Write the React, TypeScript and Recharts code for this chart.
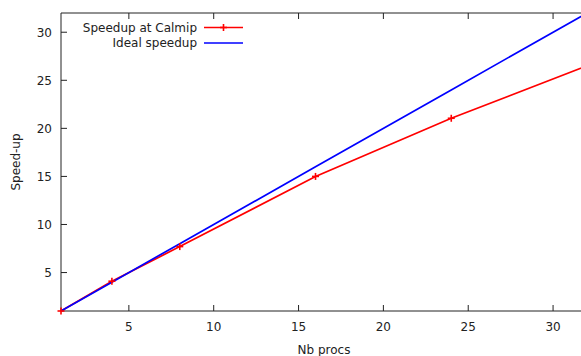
import { LineChart, Line, XAxis, YAxis, ReferenceArea, Legend } from 'recharts'

const procs = [1, 4, 8, 16, 24, 32]
const calmipSpeedup = [1, 4.1, 7.7, 15, 21.05, 26.5]
const idealSpeedup = [1, 4, 8, 16, 24, 32]
const xTicks = [5, 10, 15, 20, 25, 30]
const yTicks = [5, 10, 15, 20, 25, 30]
const seriesNames = ['Speedup at Calmip', 'Ideal speedup']

const data = procs.map((p, i) => ({ procs: p, calmip: calmipSpeedup[i], ideal: idealSpeedup[i] }))

// layout (the right border falls just outside the window, like the original)
const W = 600
const H = 356
const margin = { top: 13, right: 13, left: 0, bottom: 0 }
const xAxisHeight = 45
const yAxisWidth = 61
const plotTop = margin.top
const plotBottom = H - xAxisHeight
const plotLeft = yAxisWidth
const plotRight = W - margin.right
const font = "'DejaVu Sans', sans-serif"
const ink = '#222'

function XTick({ x, y, payload }: any) {
  return (
    <g>
      <line x1={x} y1={plotBottom} x2={x} y2={plotBottom - 6} stroke={ink} />
      <line x1={x} y1={plotTop} x2={x} y2={plotTop + 6} stroke={ink} />
      <text x={x} y={y + 19.5} textAnchor="middle" fontSize={12} fill={ink} fontFamily={font}>
        {payload.value}
      </text>
    </g>
  )
}

function YTick({ x, y, payload }: any) {
  return (
    <g>
      <line x1={plotLeft} y1={y} x2={plotLeft + 6} y2={y} stroke={ink} />
      <line x1={plotRight} y1={y} x2={plotRight - 6} y2={y} stroke={ink} />
      <text x={x - 9} y={y + 4.3} textAnchor="end" fontSize={12} fill={ink} fontFamily={font}>
        {payload.value}
      </text>
    </g>
  )
}

function PlusDot({ cx, cy, stroke }: any) {
  if (cx == null || cy == null) return null
  return (
    <g>
      <line x1={cx - 3.5} y1={cy} x2={cx + 3.5} y2={cy} stroke={stroke} strokeWidth={1.6} />
      <line x1={cx} y1={cy - 3.5} x2={cx} y2={cy + 3.5} stroke={stroke} strokeWidth={1.6} />
    </g>
  )
}

function KeyBox({ payload }: any) {
  const entries = [...(payload || [])].sort(
    (a: any, b: any) => seriesNames.indexOf(a.value) - seriesNames.indexOf(b.value)
  )
  return (
    <svg width={260} height={55} style={{ display: 'block' }}>
      {entries.map((entry: any, i: number) => {
        const ly = 27.5 + i * 15.5
        return (
          <g key={entry.value}>
            <text x={197} y={ly + 4.3} textAnchor="end" fontSize={12} fill={ink} fontFamily={font}>
              {entry.value}
            </text>
            <line x1={204} y1={ly} x2={243} y2={ly} stroke={entry.color} strokeWidth={1.7} />
            {i === 0 && <PlusDot cx={223.5} cy={ly} stroke={entry.color} />}
          </g>
        )
      })}
    </svg>
  )
}

function YLabel({ viewBox }: any) {
  const cy = viewBox.y + viewBox.height / 2
  return (
    <text
      x={19.5}
      y={cy}
      transform={`rotate(-90 19.5 ${cy})`}
      textAnchor="middle"
      fontSize={12}
      fill={ink}
      fontFamily={font}
    >
      Speed-up
    </text>
  )
}

export default function App() {
  return (
    <div
      style={{
        position: 'fixed',
        left: 0,
        top: 0,
        width: 581,
        height: 356,
        overflow: 'hidden',
        background: '#fff',
      }}
    >
      <LineChart width={W} height={H} data={data} margin={margin}>
        <XAxis
          dataKey="procs"
          type="number"
          domain={[1, 32]}
          ticks={xTicks}
          height={xAxisHeight}
          axisLine={false}
          tickLine={false}
          tickSize={0}
          tickMargin={0}
          tick={<XTick />}
          interval={0}
          label={{
            value: 'Nb procs',
            position: 'insideBottom',
            offset: 2,
            fontSize: 12,
            fill: ink,
            fontFamily: font,
          }}
        />
        <YAxis
          type="number"
          domain={[1, 32]}
          ticks={yTicks}
          width={yAxisWidth}
          axisLine={false}
          tickLine={false}
          tickSize={0}
          tickMargin={0}
          tick={<YTick />}
          interval={0}
          label={<YLabel />}
        />
        <ReferenceArea x1={1} x2={32} y1={1} y2={32} fill="none" fillOpacity={0} stroke={ink} strokeWidth={1} />
        <Legend
          layout="vertical"
          verticalAlign="middle"
          align="center"
          itemSorter={null as any}
          wrapperStyle={{ left: 0, top: 0, width: 260, height: 55 }}
          content={<KeyBox />}
        />
        <Line
          name={seriesNames[0]}
          dataKey="calmip"
          stroke="#ff0000"
          strokeWidth={1.7}
          dot={<PlusDot />}
          activeDot={false}
          isAnimationActive={false}
        />
        <Line
          name={seriesNames[1]}
          dataKey="ideal"
          stroke="#0000ff"
          strokeWidth={1.7}
          dot={false}
          activeDot={false}
          isAnimationActive={false}
        />
      </LineChart>
    </div>
  )
}
